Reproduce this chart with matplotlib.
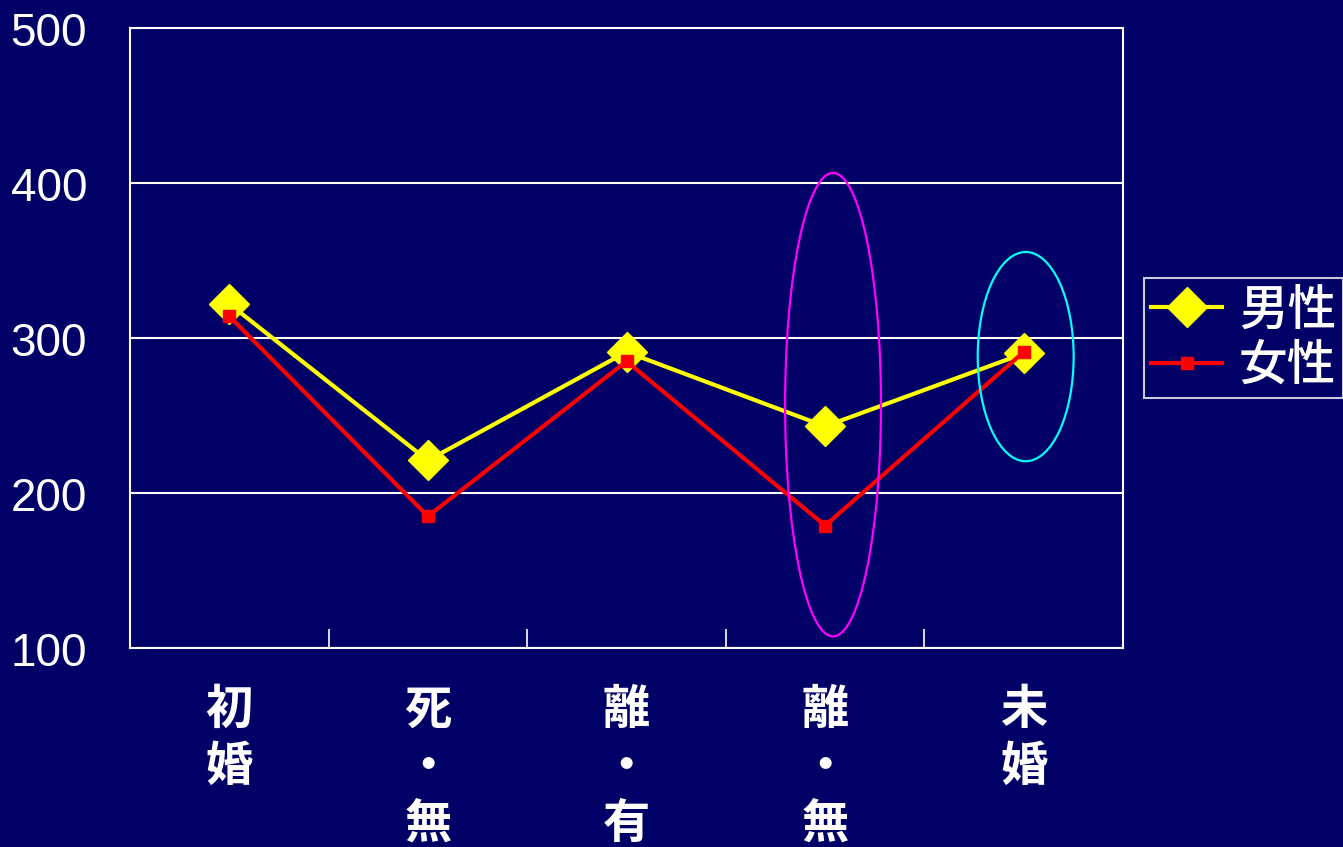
import matplotlib
matplotlib.use("Agg")
import matplotlib.pyplot as plt
import matplotlib.transforms as mtransforms
from matplotlib.patches import Ellipse

# Marital status categories (labels stacked vertically)
categories = ["初\n婚", "死\n・\n無", "離\n・\n有", "離\n・\n無", "未\n婚"]
male = [322, 221, 291, 243, 290]
female = [314, 185, 285, 179, 291]
series_names = ["男性", "女性"]
y_ticks = [100, 200, 300, 400, 500]

BG = "#000066"
CJK = ["Noto Sans CJK JP", "DejaVu Sans"]

fig = plt.figure(figsize=(13.43, 8.47), dpi=100, facecolor=BG)
ax = fig.add_axes([130 / 1343, 1 - 648 / 847, (1123 - 130) / 1343, (648 - 28) / 847])
ax.set_facecolor(BG)

x = list(range(len(categories)))
ax.plot(x, male, color="#FFFF00", lw=3.0, marker="D", markersize=20,
        markerfacecolor="#FFFF00", markeredgecolor="#FFFF00", label=series_names[0], zorder=3)
ax.plot(x, female, color="#FF0000", lw=3.0, marker="s", markersize=9,
        markerfacecolor="#FF0000", markeredgecolor="#FF0000", label=series_names[1], zorder=4)

# Highlight ellipses
ax.add_patch(Ellipse((3.04, 257), 0.483, 299, fill=False, edgecolor="#FF00FF", lw=1.6, zorder=5))
ax.add_patch(Ellipse((4.01, 288), 0.483, 135, fill=False, edgecolor="#00FFFF", lw=1.6, zorder=5))

ax.set_xlim(-0.5, len(categories) - 0.5)
ax.set_ylim(100, 500)
ax.set_yticks(y_ticks)
ax.tick_params(axis="y", length=0, labelleft=False)
ax.yaxis.grid(True, color="white", lw=1.5)
ax.set_axisbelow(True)

# Y value labels, nudged slightly below each gridline
ylab_tf = mtransforms.blended_transform_factory(ax.transAxes, ax.transData) + \
    mtransforms.ScaledTranslation(0, -5.5 / 100, fig.dpi_scale_trans)
for v in y_ticks:
    ax.text(-43 / (1123 - 130), v, str(v), transform=ylab_tf, ha="right", va="center",
            fontsize=33, color="white", family="Liberation Sans", clip_on=False)

# Category boundary ticks pointing inward, labels at centers
ax.set_xticks([i + 0.5 for i in range(len(categories) - 1)])
ax.set_xticklabels([])
ax.tick_params(axis="x", which="major", direction="in", length=14, width=1.2, color="white")
ax.set_xticks(x, minor=True)
ax.set_xticklabels(categories, minor=True, fontsize=34, color="white",
                   family=CJK, fontweight="bold", linespacing=1.24, va="top")
ax.tick_params(axis="x", which="minor", length=0, pad=27)

for sp in ax.spines.values():
    sp.set_color("white")
    sp.set_linewidth(1.5)

leg = fig.legend(loc="upper left", bbox_to_anchor=(1144 / 1343, 1 - 278 / 847),
                 prop={"family": CJK, "size": 35, "weight": "medium"}, frameon=True,
                 fancybox=False, facecolor=BG, edgecolor="white", labelcolor="white",
                 handlelength=1.45, handletextpad=0.35, borderpad=0.15,
                 labelspacing=0.12, borderaxespad=0)
leg.get_frame().set_linewidth(1.5)

fig.savefig("out.png", dpi=100, facecolor=BG)
